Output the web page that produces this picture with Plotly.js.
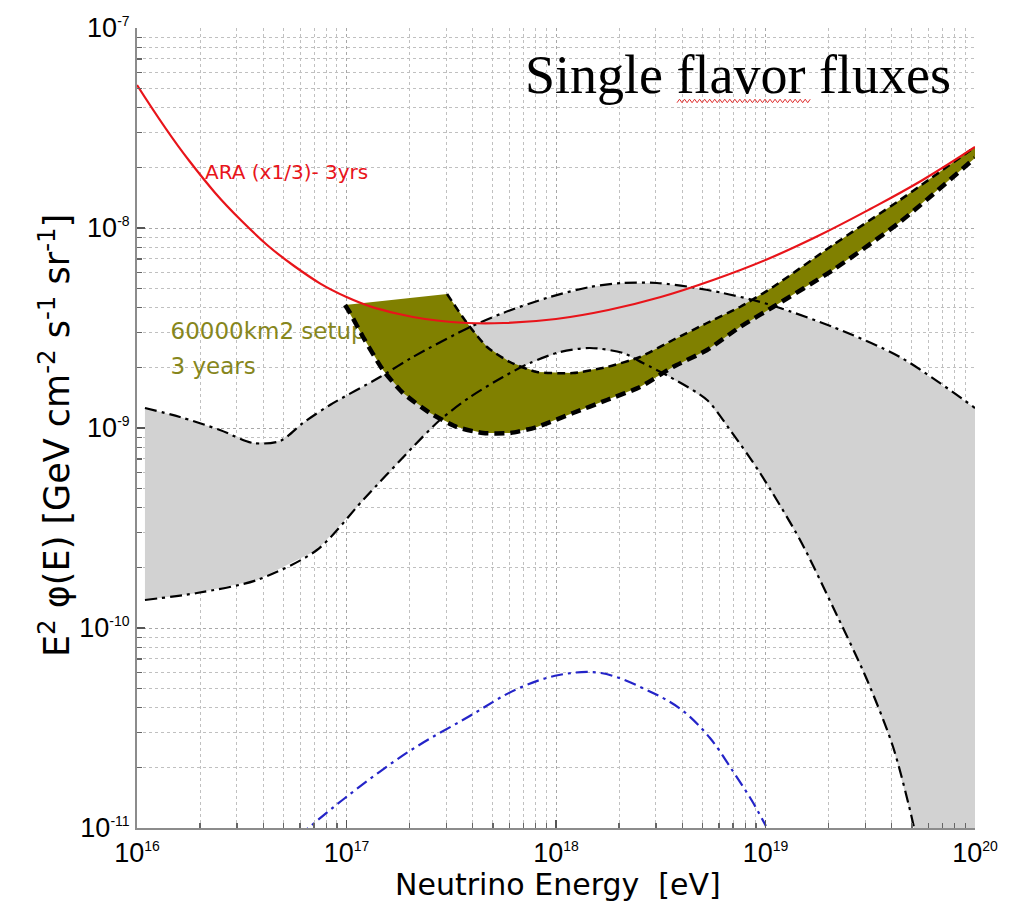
<!DOCTYPE html>
<html>
<head>
<meta charset="utf-8">
<script src="https://cdn.plot.ly/plotly-3.0.1.min.js"></script>
<style>html,body{margin:0;padding:0;background:#fff;}#chart{width:1016px;height:907px;}</style>
</head>
<body>
<div id="chart"></div>
<script>
// ---- data (log10 values) ----
const araLogE = [16.0,16.25,16.5,16.75,17.0,17.25,17.5,17.75,18.0,18.25,18.5,18.75,19.0,19.25,19.5,19.75,20.0];
const araLogF = [-7.285,-7.665,-7.965,-8.19,-8.345,-8.43,-8.47,-8.475,-8.455,-8.41,-8.345,-8.26,-8.16,-8.04,-7.905,-7.76,-7.595];

const bandUpLogE = [16.038,16.205,16.396,16.554,16.683,16.792,16.921,17.160,17.317,17.590,17.747,17.971,18.162,18.320,18.482,18.640,18.797,18.940,19.055,19.322,19.642,20.0];
const bandUpLogF = [-8.90,-8.945,-9.01,-9.075,-9.065,-8.975,-8.885,-8.745,-8.645,-8.495,-8.425,-8.345,-8.295,-8.275,-8.275,-8.295,-8.325,-8.36,-8.395,-8.495,-8.645,-8.90];

const bandLoLogE = [16.038,16.286,16.573,16.859,17.079,17.317,17.446,17.590,17.747,17.876,18.019,18.162,18.320,18.415,18.544,18.721,18.831,18.974,19.165,19.322,19.485,19.609,19.704,19.747];
const bandLoLogF = [-9.86,-9.825,-9.76,-9.61,-9.36,-9.095,-8.96,-8.845,-8.745,-8.675,-8.62,-8.60,-8.625,-8.675,-8.745,-8.86,-9.01,-9.225,-9.56,-9.895,-10.26,-10.595,-10.975,-11.21];

const setupUpLogE = [16.993,17.480,17.575,17.671,17.780,17.909,18.081,18.243,18.401,18.558,18.721,18.878,19.036,19.322,19.642,20.0];
const setupUpLogF = [-8.385,-8.33,-8.475,-8.595,-8.67,-8.72,-8.725,-8.695,-8.645,-8.56,-8.475,-8.395,-8.295,-8.085,-7.86,-7.595];

const setupLoLogE = [16.993,17.017,17.079,17.174,17.270,17.399,17.527,17.652,17.780,17.909,18.081,18.243,18.401,18.558,18.721,18.878,19.036,19.322,19.642,20.0];
const setupLoLogF = [-8.385,-8.425,-8.545,-8.71,-8.825,-8.925,-8.995,-9.025,-9.025,-8.995,-8.925,-8.86,-8.795,-8.695,-8.61,-8.495,-8.395,-8.21,-7.97,-7.65];

const blueLogE = [16.773,16.993,17.294,17.580,17.814,18.014,18.215,18.463,18.601,18.735,18.850,18.936,19.002];
const blueLogF = [-11.04,-10.85,-10.62,-10.445,-10.305,-10.235,-10.225,-10.325,-10.41,-10.55,-10.725,-10.865,-10.99];

const xTickExp = [16,17,18,19,20];
const yTickExp = [-11,-10,-9,-8,-7];

// ---- helpers ----
const p10 = a => a.map(v => Math.pow(10, v));
const rev = a => a.slice().reverse();

// gray band polygon: upper edge, down the right edge, back along lower edge
const grayX = p10(bandUpLogE.concat([20.0, bandLoLogE[bandLoLogE.length-1]]).concat(rev(bandLoLogE)));
const grayY = p10(bandUpLogF.concat([-11.21, -11.21]).concat(rev(bandLoLogF)));

const oliveX = p10(setupUpLogE.concat(rev(setupLoLogE)));
const oliveY = p10(setupUpLogF.concat(rev(setupLoLogF)));

const dashdot = "12px,5px,3px,5px";
const sans = 'DejaVu Sans, Liberation Sans, Arial, sans-serif';

const traces = [
  {x: grayX, y: grayY, type:'scatter', mode:'lines', fill:'toself', fillcolor:'#d2d2d2',
   line:{width:0, color:'rgba(0,0,0,0)'}, hoverinfo:'skip', showlegend:false},
  {x: p10([16.160, 16.160]), y: p10([-8.525, -8.70]), type:'scatter', mode:'text',
   text:['60000km2 setup','3 years'], textposition:'middle right',
   textfont:{family:sans, size:23, color:'#86861c'}, showlegend:false},
  {x: oliveX, y: oliveY, type:'scatter', mode:'lines', fill:'toself', fillcolor:'#808000',
   line:{width:0, color:'rgba(0,0,0,0)'}, hoverinfo:'skip', showlegend:false},
  {x: p10(bandUpLogE), y: p10(bandUpLogF), type:'scatter', mode:'lines',
   line:{color:'#000', width:2.2, dash:dashdot, shape:'spline', smoothing:0.8}, showlegend:false},
  {x: p10(bandLoLogE), y: p10(bandLoLogF), type:'scatter', mode:'lines',
   line:{color:'#000', width:2.2, dash:dashdot, shape:'spline', smoothing:0.8}, showlegend:false},
  {x: p10(setupUpLogE.slice(1)), y: p10(setupUpLogF.slice(1)), type:'scatter', mode:'lines',
   line:{color:'#000', width:2.5, dash:'8px,5px', shape:'spline', smoothing:0.6}, showlegend:false},
  {x: p10(setupLoLogE), y: p10(setupLoLogF), type:'scatter', mode:'lines',
   line:{color:'#000', width:4.5, dash:'10px,6px', shape:'spline', smoothing:0.6}, showlegend:false},
  {x: p10(araLogE), y: p10(araLogF), type:'scatter', mode:'lines',
   line:{color:'#e8141a', width:2.2, shape:'spline', smoothing:1.2}, showlegend:false},
  {x: p10(blueLogE), y: p10(blueLogF), type:'scatter', mode:'lines',
   line:{color:'#2424c8', width:2.2, dash:dashdot, shape:'spline', smoothing:1}, showlegend:false}
];

const tickFont = {family:'Liberation Sans, Arial, sans-serif', size:27, color:'#000'};
const mkTicks = exps => exps.map(e => '10<sup><span style="font-size:14px">' + e + '</span></sup>');

const axisCommon = {
  type:'log', showline:true, linecolor:'#8c8c8c', linewidth:2, mirror:false,
  ticks:'inside', ticklen:8, tickcolor:'#555', tickwidth:1.2,
  showgrid:true, gridcolor:'#a8a8a8', griddash:'dot', gridwidth:1,
  zeroline:false, tickfont: tickFont,
  minor:{dtick:'D1', showgrid:true, gridcolor:'#c0c0c0', griddash:'dot', gridwidth:1,
         ticks:'inside', ticklen:5, tickcolor:'#666'}
};

// red wavy spell-check underline under "flavor" (decoration, paper coords)
let wave = '';
{
  const x0 = 0.6444, x1 = 0.8055, yc = 0.9088, step = 0.0030, amp = 0.0022;
  let i = 0;
  for (let x = x0; x <= x1; x += step, i++) {
    wave += (i === 0 ? 'M ' : ' L ') + x.toFixed(4) + ' ' + (yc + (i % 2 ? amp : -amp)).toFixed(4);
  }
}

const layout = {
  width:1016, height:907,
  margin:{l:137, r:41, t:28, b:79},
  paper_bgcolor:'#fff', plot_bgcolor:'#fff',
  showlegend:false,
  xaxis: Object.assign({}, axisCommon, {
    range:[16,20], tickvals:p10(xTickExp), ticktext:mkTicks(xTickExp)
  }),
  yaxis: Object.assign({}, axisCommon, {
    range:[-11,-7], tickvals:p10(yTickExp), ticktext:mkTicks(yTickExp)
  }),
  shapes:[
    {type:'path', xref:'paper', yref:'paper', path:wave, line:{color:'#e03030', width:1}}
  ],
  annotations:[
    {x:16.315, y:-7.72, xref:'x', yref:'y', text:'ARA (x1/3)- 3yrs', showarrow:false,
     xanchor:'left', yanchor:'middle', font:{family:sans, size:20, color:'#e8141a'}},
    {x:0.717, y:0.941, xref:'paper', yref:'paper', text:'Single flavor fluxes', showarrow:false,
     xanchor:'center', yanchor:'middle', font:{family:'Liberation Serif, Times New Roman, serif', size:54, color:'#000'}},
    {x:0.502, y:-0.071, xref:'paper', yref:'paper', text:'Neutrino Energy  [eV]', showarrow:false,
     xanchor:'center', yanchor:'middle', font:{family:sans, size:30, color:'#000'}},
    {x:-0.098, y:0.491, xref:'paper', yref:'paper', textangle:-90,
     text:'E<sup>2</sup> \u03c6(E) [GeV cm<sup>-2</sup> s<sup>-1</sup> sr<sup>-1</sup>]', showarrow:false,
     xanchor:'center', yanchor:'middle', font:{family:sans, size:35, color:'#000'}}
  ]
};

Plotly.newPlot('chart', traces, layout, {staticPlot:true, displayModeBar:false});
</script>
</body>
</html>
